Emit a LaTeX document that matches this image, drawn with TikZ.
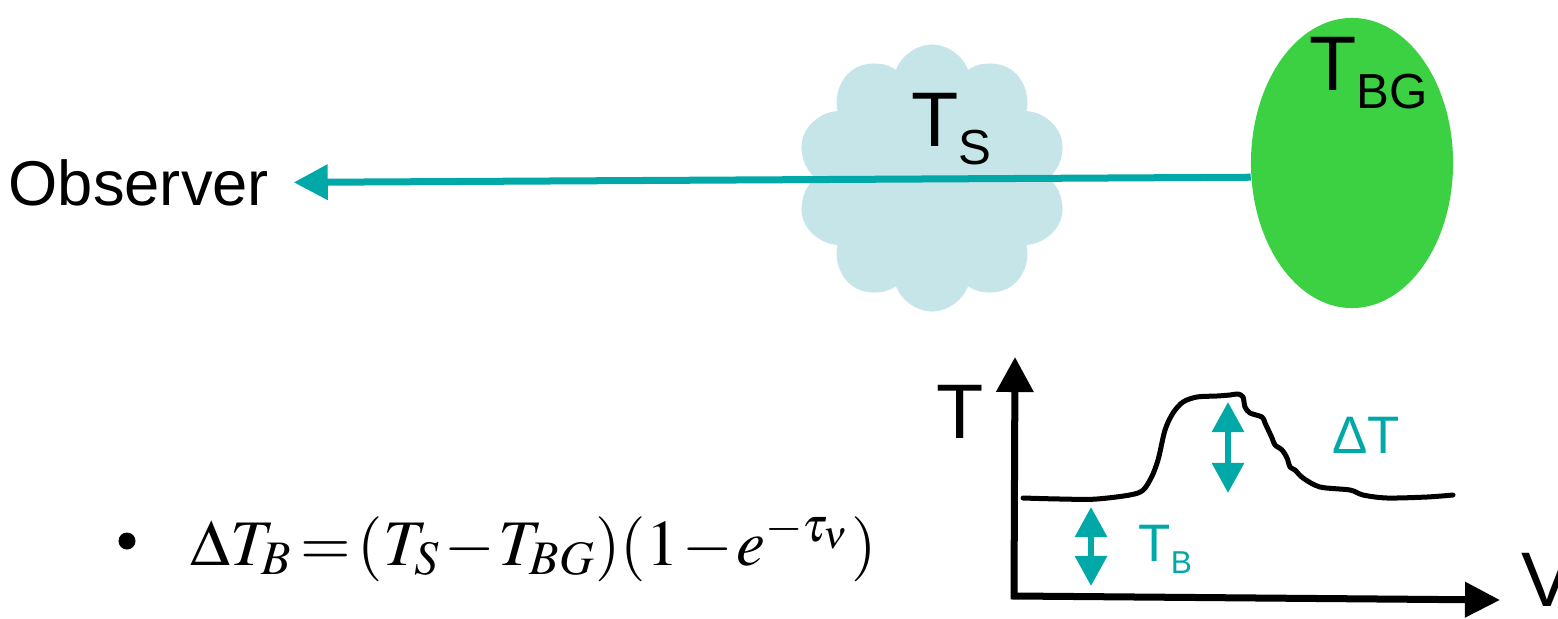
\documentclass[tikz,border=0pt]{standalone}
\usepackage{mathptmx}
\usepackage[no-math]{fontspec}
\setmainfont{Liberation Sans}
\usetikzlibrary{arrows.meta,shapes.symbols,shapes.geometric}

\definecolor{rayteal}{RGB}{0,168,168}
\definecolor{cloudblue}{RGB}{197,229,232}
\definecolor{bggreen}{RGB}{59,209,67}

% big T with a lowered subscript
\newcommand{\Tbig}[1]{{\fontsize{22}{26}\selectfont T}\raisebox{-0.185cm}{\fontsize{14}{16}\selectfont #1}}
\newcommand{\Tsmall}[1]{{\fontsize{15}{18}\selectfont T}\raisebox{-0.12cm}{\fontsize{9}{11}\selectfont #1}}

\begin{document}
\begin{tikzpicture}[x=0.01cm, y=-0.01cm,
  lbl/.style={inner sep=0pt, anchor=base west},
  ray/.style={rayteal, line width=0.07cm, -{Triangle[length=0.34cm,width=0.34cm]}},
  span/.style={rayteal, line width=0.06cm, {Triangle[length=0.3cm,width=0.31cm]}-{Triangle[length=0.3cm,width=0.31cm]}},
  axis/.style={line width=0.07cm, {Triangle[length=0.35cm,width=0.36cm]}-{Triangle[length=0.35cm,width=0.34cm]}},
  spectrum/.style={line width=0.05cm, line join=round, line cap=round}]
  \useasboundingbox (0,0) rectangle (1558,618);

  % cloud and background source
  \node[cloud, cloud puffs=10, cloud puff arc=140, aspect=1, fill=cloudblue, inner sep=0pt,
        minimum width=2.71cm, minimum height=2.67cm] (sky) at (932,178) {};
  \node[ellipse, fill=bggreen, inner sep=0pt,
        minimum width=2.02cm, minimum height=2.9cm] (bg) at (1352,163) {};

  \node[lbl, font=\fontsize{18}{22}\selectfont] (obs) at (8,205) {Observer};
  \node[lbl] (ts) at (911,146) {\Tbig{S}};
  \node[lbl] (tbg) at (1309,90) {\Tbig{BG}};

  \draw[ray] (bg.188) -- ([xshift=0.24cm]obs.east);

  % spectrum plot
  \coordinate (origin) at (1014,596);
  \coordinate (ytop) at (1015,357);
  \coordinate (xend) at (1500,600);
  \draw[axis] (ytop) -- (origin) -- (xend);
  \node[lbl, font=\fontsize{22}{26}\selectfont] (taxis) at (936,438) {T};
  \node[lbl, font=\fontsize{22}{26}\selectfont] (vaxis) at (1521,606) {V};

  \draw[spectrum] plot[smooth, tension=0.5] coordinates {(1023,498) (1060,499)
    (1097,499) (1138,493) (1150,480) (1158,460) (1165,430) (1173,413) (1183,402)
    (1197,397) (1217,396) (1230,395) (1238,394) (1243,397) (1245,407) (1250,413)
    (1262,417) (1265,423) (1272,438) (1275,445) (1282,450) (1287,458) (1290,467)
    (1295,470) (1303,478) (1320,487) (1350,490) (1363,495) (1387,498) (1427,497)
    (1453,495)};

  \coordinate (peaktop) at (1228,402);
  \coordinate (peakbot) at (1228,493);
  \coordinate (basetop) at (1091,507);
  \coordinate (basebot) at (1091,586);
  \draw[span] (peaktop) -- (peakbot);
  \draw[span] (basetop) -- (basebot);
  \node[lbl, text=rayteal, font=\fontsize{15}{18}\selectfont] (dt) at (1332,453) {ΔT};
  \node[lbl, text=rayteal] (tb) at (1138,561) {\Tsmall{B}};

  % formula
  \node[circle, fill, inner sep=0pt, minimum size=0.17cm] (dot) at (127,541) {};
  \node[lbl, font=\fontsize{18.5}{22}\selectfont] (eq) at (190,565)
    {$\thickmuskip=2mu \medmuskip=1mu
      \Delta T_B = (T_S - T_{BG})(1 - e^{-\tau_\nu})$};
\end{tikzpicture}
\end{document}
